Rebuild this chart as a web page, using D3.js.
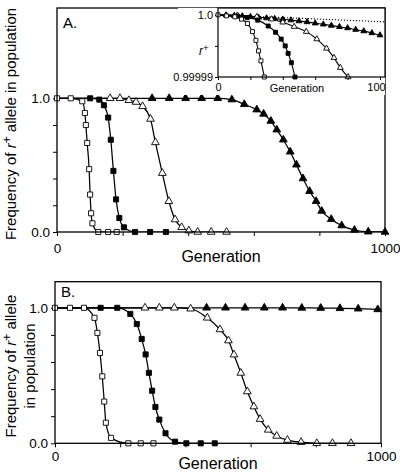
<!DOCTYPE html>
<html><head><meta charset="utf-8">
<script src="https://cdn.jsdelivr.net/npm/d3@7"></script>
<style>
body{margin:0;background:#fff}
svg{display:block}
text{font-family:"Liberation Sans",Arial,Helvetica,sans-serif;fill:#000}
</style>
</head><body>
<svg id="c" width="400" height="472"></svg>
<script>
// ---------- axis ticks ----------
const genTicks = [0, 200, 400, 600, 800, 1000];
const genTickLabels = ["0", "", "", "", "", "1000"];
const freqTicks = [0, 0.2, 0.4, 0.6, 0.8, 1.0];
const freqTickLabels = ["0.0", "", "", "", "", "1.0"];
const insetGenTicks = [0, 20, 40, 60, 80, 100];
const insetGenTickLabels = ["0", "", "", "", "", "100"];
const insetFreqTicks = [0.99999, 0.999995, 1.0];
const insetFreqTickLabels = ["0.99999", "", "1.0"];
const lineStart = [0, 1];

// ---------- Panel A (generation, frequency) ----------
const a_openSquares = [[0,1],[42,1],[77,0.978],[85,0.89],[88,0.80],[92,0.666],[98,0.47],[101,0.28],[104,0.14],[108,0.065],[126,0],[156,0],[182,0]];
const a_filledSquares = [[101,1],[129,0.99],[143,0.948],[156,0.856],[164,0.69],[172,0.457],[180,0.244],[190,0.105],[204,0.035],[238,0],[284,0],[332,0]];
const a_openTriangles = [[162,1],[192,1],[219,0.985],[241,0.972],[261,0.94],[285,0.845],[300,0.67],[321,0.44],[341,0.23],[360,0.093],[380,0.035],[402,0.01],[429,0],[470,0],[517,0]];
const a_filledTriangles = [[290,1],[342,1],[392,1],[441,1],[490,1],[533,0.99],[571,0.955],[609,0.915],[630,0.883],[652,0.83],[670,0.765],[690,0.69],[711,0.60],[730,0.503],[750,0.40],[770,0.305],[790,0.23],[807,0.157],[836,0.096],[868,0.048],[907,0.015],[949,0.002],[1000,0]];

// ---------- Panel A inset (generation 0-100, frequency near 1) ----------
const in_openSquares = [[0,1],[5.2,0.99999984],[10.4,0.99999968],[14.5,0.99999931],[18.2,0.9999986],[21.3,0.9999973],[23.4,0.9999959],[25,0.9999942],[26.5,0.9999926],[28.6,0.99999]];
const in_filledSquares = [[12,0.9999998],[18,0.99999955],[24.5,0.99999915],[31,0.9999982],[35.5,0.9999972],[39,0.9999961],[41.5,0.999995],[43.3,0.9999938],[45.3,0.9999923],[47.5,0.99999]];
const in_openTriangles = [[12,0.99999992],[24,0.9999997],[33,0.9999993],[40,0.9999988],[47,0.9999981],[54.5,0.9999973],[61,0.9999961],[67,0.9999946],[71.6,0.9999931],[75.5,0.9999915],[80.3,0.99999]];
const in_filledTriangles = [[5,0.99999995],[10,0.99999988],[15,0.9999998],[20,0.99999968],[25,0.99999958],[30,0.99999948],[35,0.99999938],[40,0.99999928],[45,0.99999915],[50,0.999999],[55,0.99999885],[60,0.99999865],[65,0.99999848],[70,0.99999828],[75,0.99999808],[80,0.99999788],[85,0.99999762],[90,0.99999738],[95,0.99999708],[100,0.99999673]];
const in_dotted = [[0,1],[103,0.99999887]];

// ---------- Panel B ----------
const b_openSquares = [[0,1],[46,1],[89,1],[121,0.926],[130,0.815],[138,0.667],[145,0.494],[151,0.308],[156,0.152],[172,0.04],[225,0],[263,0],[302,0]];
const b_filledSquares = [[140,1],[191,1],[231,0.955],[251,0.88],[266,0.77],[278,0.656],[288,0.52],[298,0.388],[308,0.268],[320,0.175],[339,0.074],[368,0.012],[403,0],[447,0],[490,0]];
const b_openTriangles = [[276,1],[320,1],[366,1],[416,0.993],[467,0.926],[506,0.84],[532,0.758],[549,0.654],[570,0.519],[590,0.382],[610,0.271],[629,0.178],[654,0.099],[680,0.054],[713,0.024],[755,0.008],[803,0],[851,0],[908,0]];
const b_filledTriangles = [[465,1],[523,1],[583,1],[642,1],[698,1],[757,0.999],[815,0.998],[874,0.996],[930,0.993],[990,0.988]];

// ---------- drawing ----------
const svg = d3.select("#c");
const defs = svg.append("defs");

function drawSeries(g, x, y, list, clipId, symSq, symTri, lw) {
  list.forEach(s => {
    const pts = s.data[0][0] > 0 ? [lineStart].concat(s.data) : s.data;
    g.append("path")
      .attr("clip-path", `url(#${clipId})`)
      .attr("d", d3.line().x(d => x(d[0])).y(d => y(d[1])).curve(d3.curveMonotoneX)(pts))
      .attr("fill", "none").attr("stroke", "#000").attr("stroke-width", lw);
  });
  list.forEach(s => {
    const sym = d3.symbol().type(s.shape === "square" ? d3.symbolSquare : d3.symbolTriangle)
      .size(s.shape === "square" ? symSq : symTri);
    g.append("g").selectAll("path").data(s.data).join("path")
      .attr("transform", d => `translate(${x(d[0])},${y(d[1])})`)
      .attr("d", sym())
      .attr("fill", s.filled ? "#000" : "#fff")
      .attr("stroke", "#000").attr("stroke-width", 0.9);
  });
}

function styleAxis(ax, fs) {
  ax.select(".domain").remove();
  ax.selectAll(".tick line").attr("stroke", "#000").attr("stroke-width", 1);
  ax.selectAll("text").attr("font-size", fs).attr("font-family", '"Liberation Sans", Arial, sans-serif').attr("fill", "#000");
}

function mainPanel(cfg) {
  const g = svg.append("g");
  const x = d3.scaleLinear().domain([0, 1000]).range([cfg.left, cfg.right]);
  const y = d3.scaleLinear().domain([0, 1]).range([cfg.bottom, cfg.y1]);
  defs.append("clipPath").attr("id", cfg.id).append("rect")
    .attr("x", cfg.left).attr("y", cfg.top).attr("width", cfg.right - cfg.left).attr("height", cfg.bottom - cfg.top);

  const ya = g.append("g").attr("transform", `translate(${cfg.left},0)`)
    .call(d3.axisLeft(y).tickValues(freqTicks).tickSize(4).tickPadding(3).tickFormat((d, i) => freqTickLabels[i]));
  styleAxis(ya, 13.5);
  const xa = g.append("g").attr("transform", `translate(0,${cfg.bottom})`)
    .call(d3.axisBottom(x).tickValues(genTicks).tickSize(4).tickPadding(cfg.xPad).tickFormat((d, i) => genTickLabels[i]));
  styleAxis(xa, 13.5);

  drawSeries(g, x, y, cfg.series, cfg.id, 26, 26, 1.25);

  g.append("rect").attr("x", cfg.left).attr("y", cfg.top)
    .attr("width", cfg.right - cfg.left).attr("height", cfg.bottom - cfg.top)
    .attr("fill", "none").attr("stroke", "#000").attr("stroke-width", 1.3);

  g.append("text").attr("x", cfg.left + 6).attr("y", cfg.top + cfg.letterDy)
    .attr("font-size", 15).text(cfg.letter);

  g.append("text").attr("x", (cfg.left + cfg.right) / 2).attr("y", cfg.genY)
    .attr("text-anchor", "middle").attr("font-size", 16).text("Generation");

  const lab = g.append("text").attr("transform", `translate(0,${cfg.labelY}) rotate(-90)`)
    .attr("text-anchor", "middle").attr("font-size", 15);
  cfg.labelLines.forEach((ln, k) => {
    const t = lab.append("tspan").attr("x", 0).attr("y", cfg.labelX[k]);
    ln.forEach(part => {
      if (part === "r+") {
        t.append("tspan").attr("font-style", "italic").text("r");
        t.append("tspan").attr("dy", "-0.45em").attr("font-size", "0.8em").text("+");
        t.append("tspan").attr("dy", "0.36em").text(" ");
      } else {
        t.append("tspan").text(part);
      }
    });
  });
  return g;
}

const seriesDef = (os, fs, ot, ft) => [
  { data: ft, shape: "triangle", filled: true },
  { data: ot, shape: "triangle", filled: false },
  { data: fs, shape: "square", filled: true },
  { data: os, shape: "square", filled: false }
];

mainPanel({
  id: "clipA", left: 57, right: 385, top: 8, bottom: 232, y1: 98.3, xPad: 7,
  letter: "A.", letterDy: 20, genY: 262, labelY: 124, labelX: [16],
  labelLines: [["Frequency of ", "r+", "allele in population"]],
  series: seriesDef(a_openSquares, a_filledSquares, a_openTriangles, a_filledTriangles)
});

mainPanel({
  id: "clipB", left: 55, right: 381, top: 281.7, bottom: 443.3, y1: 307.8, xPad: 4,
  letter: "B.", letterDy: 15, genY: 469, labelY: 366, labelX: [16, 35],
  labelLines: [["Frequency of ", "r+", "allele"], ["in population"]],
  series: seriesDef(b_openSquares, b_filledSquares, b_openTriangles, b_filledTriangles)
});

// ---------- inset ----------
(function () {
  const L = 218, R = 385, T = 8, B = 77;
  const g = svg.append("g");
  const x = d3.scaleLinear().domain([0, 103.1]).range([L, R]);
  const y = d3.scaleLinear().domain([0.99999, 1.0000011]).range([B, T]);
  defs.append("clipPath").attr("id", "clipI").append("rect")
    .attr("x", L).attr("y", T).attr("width", R - L).attr("height", B - T);
  g.append("rect").attr("x", L - 40).attr("y", T).attr("width", R - L + 40).attr("height", B - T + 18).attr("fill", "#fff");
  g.append("rect").attr("x", L).attr("y", T).attr("width", R - L).attr("height", B - T).attr("fill", "#fff");

  const ya = g.append("g").attr("transform", `translate(${L},0)`)
    .call(d3.axisLeft(y).tickValues(insetFreqTicks).tickSize(3).tickPadding(2).tickFormat((d, i) => insetFreqTickLabels[i]));
  styleAxis(ya, 11);
  const xa = g.append("g").attr("transform", `translate(0,${B})`)
    .call(d3.axisBottom(x).tickValues(insetGenTicks).tickSize(3).tickPadding(3).tickFormat((d, i) => insetGenTickLabels[i]));
  styleAxis(xa, 11);
  xa.selectAll(".tick text").filter((d) => d === 100).attr("dx", -4);

  g.append("path").attr("clip-path", "url(#clipI)")
    .attr("d", d3.line().x(d => x(d[0])).y(d => y(d[1]))(in_dotted))
    .attr("fill", "none").attr("stroke", "#000").attr("stroke-width", 1.1).attr("stroke-dasharray", "1.2,1.8");

  drawSeries(g, x, y, seriesDef(in_openSquares, in_filledSquares, in_openTriangles, in_filledTriangles), "clipI", 16, 15, 1.1);

  g.append("rect").attr("x", L).attr("y", T).attr("width", R - L).attr("height", B - T)
    .attr("fill", "none").attr("stroke", "#000").attr("stroke-width", 1.2);

  g.append("text").attr("x", 297).attr("y", 92).attr("text-anchor", "middle").attr("font-size", 11).text("Generation");
  const rl = g.append("text").attr("x", 199).attr("y", 55).attr("font-size", 12);
  rl.append("tspan").attr("font-style", "italic").text("r");
  rl.append("tspan").attr("dy", "-0.45em").attr("font-size", "0.8em").text("+");
})();
</script>
</body></html>
